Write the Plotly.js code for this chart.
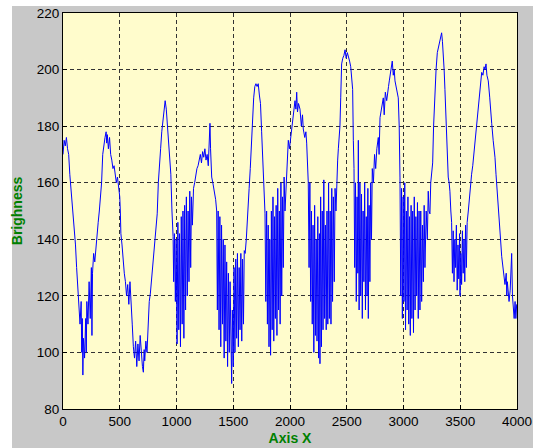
<!DOCTYPE html>
<html>
<head>
<meta charset="utf-8">
<script src="https://cdn.plot.ly/plotly-3.0.1.min.js"></script>
<style>html,body{margin:0;padding:0;background:#fff;}#chart{width:533px;height:448px;}</style>
</head>
<body>
<div id="chart"></div>
<script>
var xTicks = [0, 500, 1000, 1500, 2000, 2500, 3000, 3500, 4000];
var yTicks = [80, 100, 120, 140, 160, 180, 200, 220];

var xs = [
0,10,20,30,40,50,60,70,80,90,100,110,120,130,
140,150,160,165,170,175,180,190,200,205,210,220,230,240,250,255,260,270,280,290,300,
310,320,330,340,350,360,370,380,385,390,400,410,420,430,440,450,460,470,480,490,500,505,510,520,530,540,550,560,570,580,590,600,610,620,630,640,650,660,670,680,690,700,708,715,720,730,740,750,760,770,780,790,800,810,
820,830,840,850,860,870,880,890,900,910,920,930,940,950,960,970,975,982,990,997,1005,1012,1020,1027,1035,1042,1050,1057,1065,1072,1080,1087,1095,1102,1110,1117,1125,1132,1140,
1150,1160,1170,1180,1190,1200,1210,1220,1230,1240,1250,1260,1270,1280,1290,1295,1300,1310,1320,1330,1345,1354,
1360,1367,1375,1382,1390,1397,1405,1412,1420,1427,1435,1442,1450,1457,1465,1472,1480,1486,1492,1500,1507,1515,1522,1530,1537,1545,1552,1560,1567,1575,1582,1590,1597,1605,
1615,1625,1633,1640,1650,1662,1670,1680,1690,1700,1710,1720,1730,1740,1750,1760,1765,1775,1780,
1787,1794,1801,1808,1815,1822,1829,1836,1843,1850,1857,1864,1871,1878,1885,1892,1899,1906,1913,1920,1927,1934,1941,1948,1956,
1965,1975,1985,1995,2005,2015,2025,2035,2044,2052,2059,2066,2075,2088,2100,2110,2117,2130,2140,2147,2155,2161,
2168,2175,2182,2189,2196,2203,2210,2217,2224,2231,2238,2245,2252,2259,2264,2270,2277,2284,2291,2298,2305,2312,2319,2326,2333,2340,2347,2354,2361,2368,2375,2382,2390,2397,2405,
2411,2420,2426,2433,2440,2447,2455,2465,2475,2485,2495,2505,2514,2525,2535,2545,2552,2558,2564,
2570,2577,2584,2591,2598,2602,2609,2616,2623,2630,2637,2644,2651,2658,2665,2672,2679,2686,2690,2697,2704,2711,2718,2725,
2735,2745,2755,2765,2778,2785,2793,2805,2815,2822,2830,2840,2852,2860,2868,2875,2885,2893,2901,2910,2918,2925,2935,2945,2954,2962,2969,
2976,2983,2990,2997,3004,3011,3018,3025,3032,3039,3046,3053,3060,3067,3074,3081,3088,3095,3102,3109,3116,3123,3130,3137,3145,3152,3160,3167,3175,3182,3189,
3200,3210,3218,3225,3233,3240,3250,3257,3265,3277,3287,3298,3310,3321,3330,3336,3343,3350,3358,3365,3375,3385,3394,3402,3409,3417,3424,
3431,3438,3445,3452,3459,3466,3473,3480,3487,3494,3498,3505,3512,3519,3526,3533,3540,3547,3554,3561,3571,
3580,3590,3600,3610,3620,3630,3640,3650,3659,3670,3680,3689,3700,3710,3718,3727,3735,3747,3760,3770,3777,3790,3806,3815,3825,3835,3845,3855,3865,3875,3885,3894,3905,3910,3915,3923,3930,3940,3947,3953,3960,3967,3975,3983,3990,3997
];

var ys = [
170,175,173,176,172,170,163,158,155,150,143,138,130,122,
115,110,118,100,112,92,105,98,112,100,118,110,125,112,130,106,128,135,132,138,140,
146,150,155,160,170,174,176,178,174,177,172,176,170,168,165,166,163,160,162,158,155,150,142,138,132,128,125,120,124,117,125,115,110,102,98,104,95,103,97,106,99,95,93,101,97,104,100,110,118,121,126,132,137,140,
145,149,160,168,172,178,182,186,189,186,180,176,168,163,150,141,125,142,118,140,103,146,108,142,102,148,110,150,105,152,115,155,120,150,125,157,130,155,145,
158,160,163,165,166,168,170,167,171,169,172,168,170,166,175,181,172,162,160,158,154,150,
115,150,108,148,102,145,110,140,98,138,104,132,95,128,100,125,92,89,115,95,130,100,133,105,135,102,130,108,135,104,133,110,136,135,
140,146,151,158,165,176,183,190,194,195,194,195,191,188,178,168,162,152,149,
118,150,110,145,102,140,99,150,108,155,104,148,112,152,106,158,115,150,110,160,120,155,130,162,150,
160,170,175,172,176,178,182,186,189,186,192,185,188,186,180,184,179,176,178,174,165,160,
130,160,118,150,110,145,100,152,106,140,104,148,98,142,96,155,102,150,108,161,112,145,108,150,110,160,112,150,110,158,118,155,125,158,150,
162,168,172,176,180,190,202,204,205,207,204,206,205,203,201,196,193,175,165,
130,160,118,155,128,175,115,160,120,156,112,150,125,160,115,148,120,158,112,152,125,160,140,165,
160,170,165,172,176,170,183,186,188,190,184,192,189,193,194,196,199,200,203,198,200,196,194,192,190,180,162,
120,158,112,155,118,160,108,150,115,155,110,148,106,152,112,150,107,155,115,148,120,153,112,150,115,150,118,145,125,152,130,
150,140,157,150,149,160,165,167,180,193,200,206,208,210,211,213,210,206,200,193,180,170,162,160,157,150,146,
128,143,125,140,130,145,122,138,126,142,120,135,124,143,128,140,125,145,130,146,150,
155,160,163,166,170,174,178,184,187,192,196,199,198,201,200,202,198,196,190,186,181,175,169,163,158,151,145,140,134,130,127,124,128,120,125,121,118,122,130,135,120,116,112,118,112,117
];

var trace = {
  x: xs, y: ys, type: 'scatter', mode: 'lines',
  line: {color: '#0000ff', width: 1},
  hoverinfo: 'skip'
};

var tickFont = {family: '"Liberation Sans", Arial, sans-serif', size: 13.5, color: '#000'};
var titleFont = {family: '"Liberation Sans", Arial, sans-serif', size: 14, color: '#008000', weight: 'bold'};

var layout = {
  width: 533, height: 448,
  margin: {l: 63, r: 16, t: 13, b: 39, pad: 0},
  paper_bgcolor: '#c8c8c8',
  plot_bgcolor: '#fffccc',
  showlegend: false,
  xaxis: {
    range: [0, 4000], tickvals: xTicks, ticktext: xTicks.map(String),
    showgrid: true, gridcolor: '#333', griddash: '4px,3px', gridwidth: 1,
    zeroline: false, showline: true, mirror: true, linecolor: '#000', linewidth: 1,
    ticks: 'inside', ticklen: 4, tickcolor: '#000',
    tickfont: tickFont, automargin: false, ticklabeloverflow: 'allow',
    title: {text: '<b>Axis X</b>', font: titleFont, standoff: 4}
  },
  yaxis: {
    range: [80, 220], tickvals: yTicks, ticktext: yTicks.map(String),
    showgrid: true, gridcolor: '#333', griddash: '4px,3px', gridwidth: 1,
    zeroline: false, showline: true, mirror: true, linecolor: '#000', linewidth: 1,
    ticks: 'inside', ticklen: 4, tickcolor: '#000',
    tickfont: tickFont, automargin: false, ticklabeloverflow: 'allow',
    title: {text: '<b>Brighness</b>', font: titleFont, standoff: 10}
  },
  shapes: [
    {type: 'rect', xref: 'paper', yref: 'paper', x0: -0.2, x1: 1.1, y0: 1.0177, y1: 1.1, fillcolor: '#ffffff', line: {width: 0}, layer: 'below'},
    {type: 'rect', xref: 'paper', yref: 'paper', x0: -0.2, x1: -0.1123, y0: -0.2, y1: 1.1, fillcolor: '#ffffff', line: {width: 0}, layer: 'below'}
  ]
};

Plotly.newPlot('chart', [trace], layout, {staticPlot: true, displayModeBar: false});
</script>
</body>
</html>
